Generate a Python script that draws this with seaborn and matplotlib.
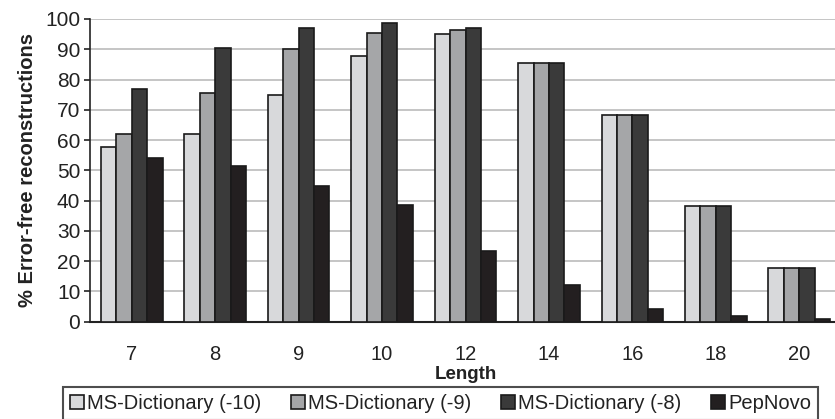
import numpy as np
import pandas as pd
import matplotlib
matplotlib.use("Agg")
import matplotlib.pyplot as plt
import seaborn as sns
from matplotlib.patches import Patch

lengths = ["7", "8", "9", "10", "12", "14", "16", "18", "20"]
ms_dict_10 = [57.8, 61.9, 74.9, 87.9, 95.0, 85.6, 68.2, 38.3, 17.6]
ms_dict_9 = [61.9, 75.7, 90.0, 95.4, 96.5, 85.6, 68.2, 38.3, 17.6]
ms_dict_8 = [76.8, 90.4, 97.0, 98.8, 97.1, 85.6, 68.2, 38.3, 17.6]
pepnovo = [54.2, 51.4, 44.9, 38.5, 23.4, 12.1, 4.2, 1.9, 0.8]

methods = ["MS-Dictionary (-10)", "MS-Dictionary (-9)", "MS-Dictionary (-8)", "PepNovo"]
colors = ["#d8d9db", "#a5a6a8", "#3a3a3a", "#231f20"]

df = pd.DataFrame({
    "Length": lengths * 4,
    "Method": np.repeat(methods, len(lengths)),
    "Value": ms_dict_10 + ms_dict_9 + ms_dict_8 + pepnovo,
})

sns.set_style("white")
plt.rcParams["font.family"] = ["Liberation Sans", "DejaVu Sans"]

fig = plt.figure(figsize=(8.35, 4.19), dpi=100)
W, H = 835, 419
ax = fig.add_axes([90 / W, (H - 321.7) / H, 751 / W, 302.7 / H])

sns.barplot(data=df, x="Length", y="Value", hue="Method", order=lengths,
            hue_order=methods, palette=colors, width=0.74, edgecolor="#1a1a1a",
            linewidth=1.2, saturation=1, legend=False, ax=ax, zorder=3)

ax.set_ylim(0, 100)
ax.set_xlim(-0.5, len(lengths) - 0.5)
ax.set_yticks(range(0, 101, 10))
ax.yaxis.grid(True, color="#c0c0c0", linewidth=1.3, zorder=0)
ax.set_axisbelow(True)
for s in ["top", "right"]:
    ax.spines[s].set_visible(False)
ax.spines["left"].set_color("#222222")
ax.spines["bottom"].set_color("#222222")
ax.spines["left"].set_linewidth(1.2)
ax.spines["bottom"].set_linewidth(1.5)

# ticks between categories on x
ax.set_xticks(np.arange(-0.5, len(lengths), 1.0), minor=True)
ax.tick_params(axis="x", which="minor", length=5, width=1.2, color="#222222", direction="out")
ax.tick_params(axis="x", which="major", length=0, pad=17, labelsize=14.5, labelcolor="#222222")
ax.tick_params(axis="y", length=4, width=1.2, color="#222222", direction="out", pad=3,
               labelsize=15, labelcolor="#222222", left=True)

ax.set_xlabel("Length", fontsize=13.5, fontweight="bold", labelpad=1, color="#222222")
ax.set_ylabel("% Error-free reconstructions", fontsize=14.5, fontweight="bold",
              labelpad=6, color="#222222")

handles = [Patch(facecolor=c, edgecolor="#1a1a1a", linewidth=1.2) for c in colors]
leg = fig.legend(handles, methods, loc="upper left", ncol=4, mode="expand",
                 bbox_to_anchor=(63 / W, 1 - 391 / H, 755 / W, 0.01),
                 frameon=True, fancybox=False, edgecolor="#222222", fontsize=14.5,
                 handlelength=0.7, handleheight=0.7, handletextpad=0.15,
                 columnspacing=1.0, borderpad=0.35, borderaxespad=0)
leg.get_frame().set_linewidth(1.5)
for t in leg.get_texts():
    t.set_color("#222222")

fig.savefig("out.png", dpi=100)
